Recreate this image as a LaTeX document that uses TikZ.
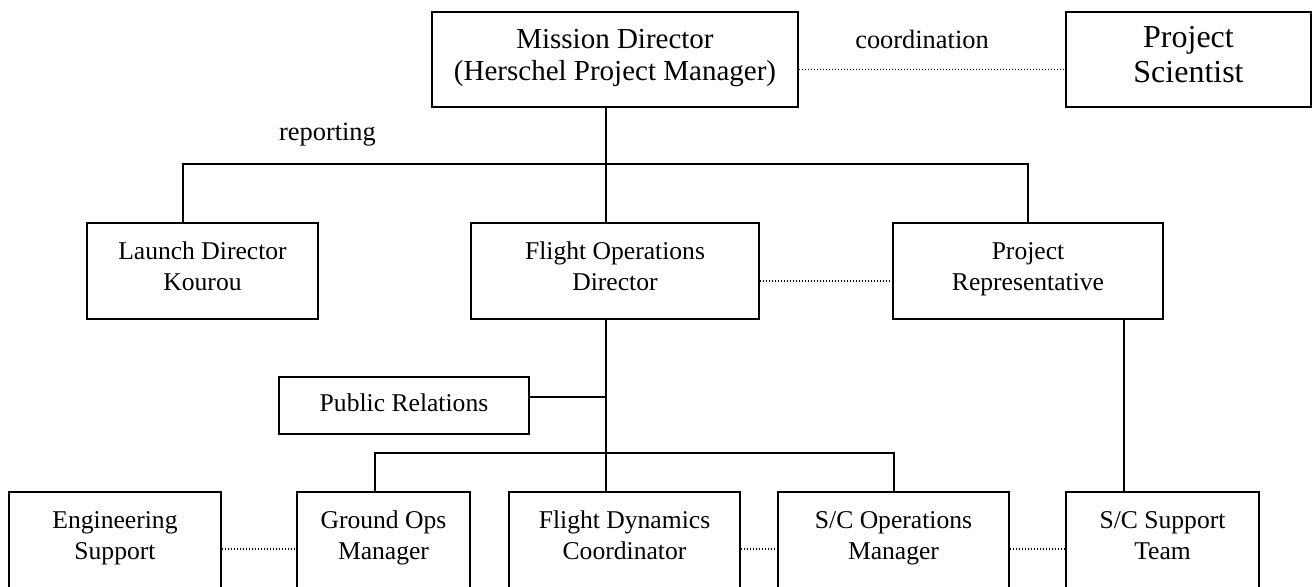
\documentclass[tikz,border=0pt]{standalone}
\usepackage{fontspec}
\setmainfont{Liberation Serif}

\begin{document}
\begin{tikzpicture}[x=0.5pt, y=-0.5pt,
        box/.style={draw, line width=1pt, align=center, inner sep=0pt, minimum height=48pt, font=\fontsize{12.8}{15.5}\selectfont,
            execute at begin node=\strut, execute at end node=\strut},
        link/.style={line width=1pt},
        dotline/.style={line width=0.6pt, dash pattern=on 0.6pt off 0.9pt},
        lbl/.style={font=\fontsize{13.2}{15}\selectfont}]
        \useasboundingbox (0,0) rectangle (1313,586);

        % Top level
        \node[box, minimum width=183pt, minimum height=47.5pt, font=\fontsize{14.5}{16}\selectfont] (md) at (615,59.5) {Mission Director\\(Herschel Project Manager)};
        \node[box, minimum width=122.5pt, minimum height=47.5pt, font=\fontsize{16}{17.5}\selectfont] (ps) at (1188.5,59.5) {Project\\Scientist};

        % Directors
        \node[box, minimum width=115.5pt] (ld) at (202.5,271) {Launch Director\\Kourou};
        \node[box, minimum width=144pt] (fod) at (615,271) {Flight Operations\\Director};
        \node[box, minimum width=135pt] (prep) at (1028,271) {Project\\Representative};
        \node[box, minimum width=125pt, minimum height=28.5pt] (pr) at (404,405.5) {Public Relations};

        % Teams
        \node[box, minimum width=106pt] (es) at (115,540) {Engineering\\Support};
        \node[box, minimum width=86.5pt] (gom) at (383.5,540) {Ground Ops\\Manager};
        \node[box, minimum width=115.5pt] (fdc) at (624.5,540) {Flight Dynamics\\Coordinator};
        \node[box, minimum width=115.5pt] (sco) at (893.5,540) {S/C Operations\\Manager};
        \node[box, minimum width=96.5pt] (scs) at (1162.5,540) {S/C Support\\Team};

        \node[lbl] (coordlbl) at (922,39) {coordination};
        \node[lbl] (replbl) at (327.5,135) {reporting};

        % Reporting lines
        \coordinate (trunk) at ([xshift=-4.5pt]fod.south);
        \draw[link] ([xshift=-4.5pt]md.south) -- ([xshift=-4.5pt]fod.north);
        \draw[link] ([xshift=-9.75pt]ld.north) |- ([yshift=29pt]prep.north) -- (prep.north);
        \draw[link] (trunk) -- ([xshift=-9.25pt]fdc.north);
        \draw[link] ([yshift=4.25pt]pr.east) -| (trunk);
        \draw[link] ([xshift=-4.25pt]gom.north) |- ([yshift=19pt]sco.north) -- (sco.north);
        \draw[link] ([xshift=48pt]prep.south) -- ([xshift=-19.25pt]scs.north);

        % Coordination lines
        \draw[dotline] ([yshift=-5pt]md.east) -- ([yshift=-5pt]ps.west);
        \draw[dotline] ([yshift=-5pt]fod.east) -- ([yshift=-5pt]prep.west);
        \draw[dotline] ([yshift=-4.5pt]es.east) -- ([yshift=-4.5pt]gom.west);
        \draw[dotline] ([yshift=-4.5pt]fdc.east) -- ([yshift=-4.5pt]sco.west);
        \draw[dotline] ([yshift=-4.5pt]sco.east) -- ([yshift=-4.5pt]scs.west);
    \end{tikzpicture}
\end{document}
